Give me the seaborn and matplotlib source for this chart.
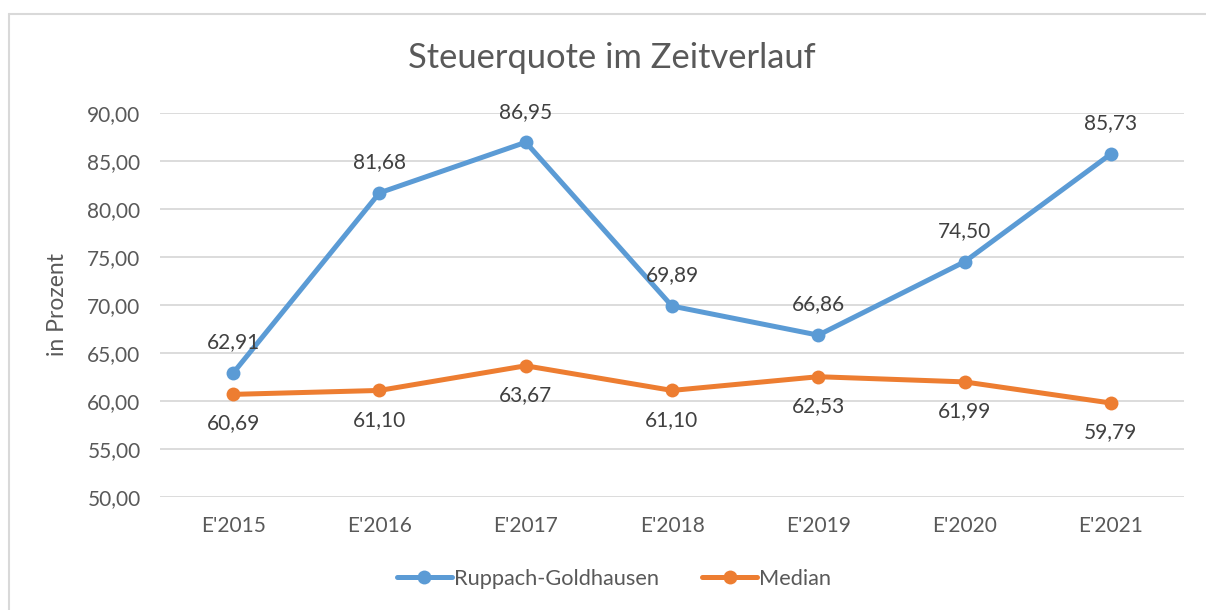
import pandas as pd
import matplotlib.pyplot as plt
import seaborn as sns
from matplotlib.lines import Line2D

# ========== Data ==========
years = ["E'2015", "E'2016", "E'2017", "E'2018", "E'2019", "E'2020", "E'2021"]
ruppach = [62.91, 81.68, 86.95, 69.89, 66.86, 74.50, 85.73]
median = [60.69, 61.10, 63.67, 61.10, 62.53, 61.99, 59.79]
series_names = ["Ruppach-Goldhausen", "Median"]
colors = {"Ruppach-Goldhausen": "#5B9BD5", "Median": "#ED7D31"}

df = pd.DataFrame({
    "year": years * 2,
    "value": ruppach + median,
    "series": [series_names[0]] * len(years) + [series_names[1]] * len(years),
})

# ========== Style ==========
sns.set_theme(style="white")
plt.rcParams["font.family"] = ["Lato", "DejaVu Sans"]
text_col = "#595959"

fig = plt.figure(figsize=(12.06, 6.10), dpi=100)
ax = fig.add_axes([160 / 1206, 1 - 497 / 610, 1024 / 1206, 384 / 610])

sns.lineplot(data=df, x="year", y="value", hue="series", palette=colors,
             marker="o", markersize=10, markeredgewidth=0, linewidth=3.6,
             legend=False, ax=ax, sort=False)

ax.set_xlim(-0.5, len(years) - 0.5)
ax.set_ylim(50, 90)
ax.set_yticks(range(50, 91, 5))
ax.set_yticklabels([f"{v:.2f}".replace(".", ",") for v in range(50, 91, 5)],
                   fontsize=15, color=text_col)
ax.set_xticks(range(len(years)))
ax.set_xticklabels(years, fontsize=15, color=text_col)
ax.tick_params(axis="y", pad=14, length=0)
ax.tick_params(axis="x", pad=14, length=0)
ax.yaxis.grid(True, color="#D9D9D9", linewidth=1.3)
ax.set_axisbelow(True)
for s in ax.spines.values():
    s.set_visible(False)
ax.set_xlabel("")
ax.set_ylabel("in Prozent", fontsize=16.5, color=text_col, labelpad=14)

# data labels
for i, v in enumerate(ruppach):
    ax.annotate(f"{v:.2f}".replace(".", ","), (i, v), xytext=(0, 22),
                textcoords="offset points", ha="center", va="center",
                fontsize=15, color="#404040")
for i, v in enumerate(median):
    ax.annotate(f"{v:.2f}".replace(".", ","), (i, v), xytext=(0, -21),
                textcoords="offset points", ha="center", va="center",
                fontsize=15, color="#404040")

fig.text(612 / 1206, 1 - 58 / 610, "Steuerquote im Zeitverlauf",
         ha="center", va="center", fontsize=24.8, color=text_col)

# legend
handles = [Line2D([], [], color=colors[n], marker="o", markersize=10,
                  markeredgewidth=0, linewidth=3.6) for n in series_names]
fig.legend(handles, series_names, loc="center", bbox_to_anchor=(614 / 1206, 1 - 579 / 610),
           ncol=2, frameon=False, fontsize=15.7, labelcolor=text_col,
           handlelength=2.5, handletextpad=0.1, columnspacing=2.0)

# chart frame (cropped at right / bottom)
fig.add_artist(Line2D([9 / 1206, 9 / 1206], [0, 1 - 14 / 610], color="#D9D9D9", linewidth=1.5))
fig.add_artist(Line2D([9 / 1206, 1], [1 - 14 / 610, 1 - 14 / 610], color="#D9D9D9", linewidth=1.5))

fig.savefig("out.png", dpi=100, facecolor="white")
